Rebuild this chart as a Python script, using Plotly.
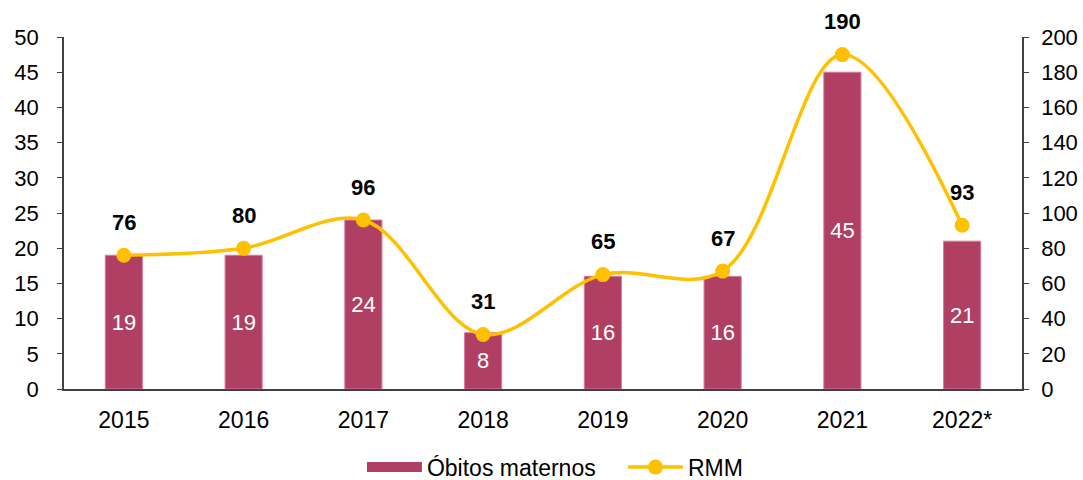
import plotly.graph_objects as go

years = ["2015", "2016", "2017", "2018", "2019", "2020", "2021", "2022*"]
obitos = [19, 19, 24, 8, 16, 16, 45, 21]
rmm = [76, 80, 96, 31, 65, 67, 190, 93]

bar_color = "#B03F64"
line_color = "#FFC000"
font_family = "Liberation Sans, Arial, sans-serif"

xpos = list(range(len(years)))

fig = go.Figure()
fig.add_trace(go.Bar(
    x=xpos, y=obitos, name="Óbitos maternos", showlegend=False,
    marker=dict(color=bar_color, line=dict(color="#D97A9A", width=1)),
    width=0.31,
    text=[str(v) for v in obitos], textposition="inside", insidetextanchor="middle",
    textfont=dict(color="white", size=22, family=font_family),
    yaxis="y",
))
# legend swatch for the bars (wide rectangle like the reference)
fig.add_trace(go.Scatter(
    x=[None], y=[None], name="Óbitos maternos", mode="lines",
    line=dict(color=bar_color, width=12), yaxis="y", hoverinfo="skip",
))
fig.add_trace(go.Scatter(
    x=xpos, y=rmm, name="RMM", mode="lines+markers",
    line=dict(color=line_color, width=3.5, shape="spline", smoothing=1.0),
    marker=dict(color=line_color, size=15),
    yaxis="y2",
))

for xp, v in zip(xpos, rmm):
    fig.add_annotation(x=xp, y=v, xref="x", yref="y2", text="<b>%d</b>" % v, showarrow=False,
                       yshift=33, font=dict(size=22, color="black", family=font_family))

axis_common = dict(showgrid=False, zeroline=False, showline=True, linecolor="#404040",
                   linewidth=1.5, ticks="outside", ticklen=5, tickcolor="#404040",
                   tickfont=dict(size=22, color="black", family=font_family))

fig.update_layout(
    width=1083, height=480,
    margin=dict(l=64, r=61, t=37, b=91, autoexpand=False),
    paper_bgcolor="white", plot_bgcolor="white",
    font=dict(family=font_family, size=22, color="black"),
    xaxis=dict(type="linear", range=[-0.5, len(years) - 0.5], tickmode="array",
               tickvals=xpos, ticktext=years,
               showgrid=False, zeroline=False, showline=True, linecolor="#404040",
               linewidth=1.5, ticks="outside", ticklen=10, tickcolor="rgba(0,0,0,0)",
               tickfont=dict(size=23, color="black", family=font_family)),
    yaxis=dict(range=[0, 50], dtick=5, ticklabelstandoff=14, **axis_common),
    yaxis2=dict(range=[0, 200], dtick=20, overlaying="y", side="right", ticklabelstandoff=8,
                **axis_common),
    legend=dict(orientation="h", x=0.311, xanchor="left", y=-0.222, yanchor="middle",
                itemwidth=55, entrywidth=191, entrywidthmode="pixels",
                font=dict(size=23, color="black", family=font_family)),
    showlegend=True,
)

fig.write_html("out.html")
